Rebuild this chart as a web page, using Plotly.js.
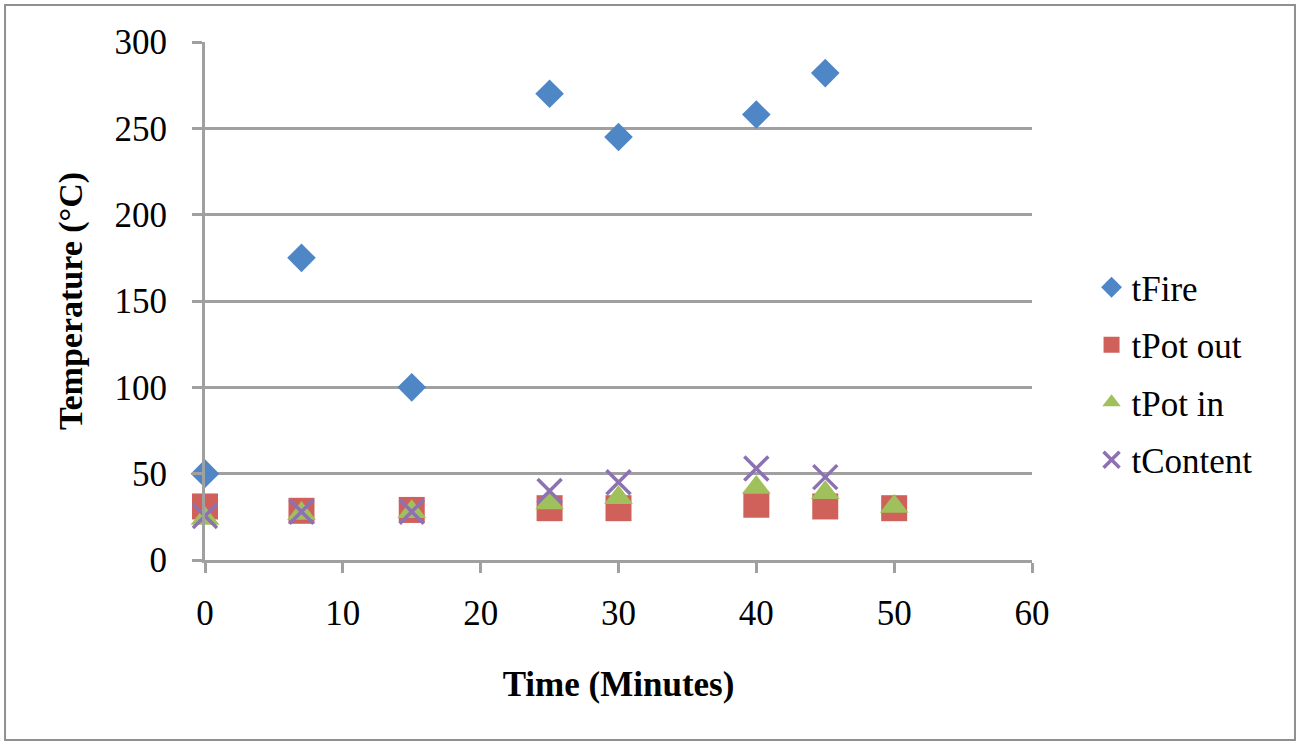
<!DOCTYPE html>
<html><head><meta charset="utf-8">
<script src="https://cdn.plot.ly/plotly-3.0.1.min.js"></script>
<style>html,body{margin:0;padding:0;background:#fff;}#chart{width:1300px;height:744px;}</style>
</head><body><div id="chart"></div>
<script>
const fireX = [0, 7, 15, 25, 30, 40, 45];
const fireY = [50, 175, 100, 270, 245, 258, 282];
const potOutX = [0, 7, 15, 25, 30, 40, 45, 50];
const potOutY = [31, 28.5, 29, 30, 30, 32, 31, 30];
const potInX = [0, 7, 15, 25, 30, 40, 45, 50];
const potInY = [24, 27, 28, 33, 36, 42, 39, 31];
const contentX = [0, 7, 15, 25, 30, 40, 45];
const contentY = [25.5, 28, 28, 40, 45, 53, 48];

const serif = 'Liberation Serif, Times New Roman, serif';
const traces = [
  {x: fireX, y: fireY, name: 'tFire', legendgroup: 'a', type: 'scatter', mode: 'markers', cliponaxis: false,
   marker: {symbol: 'diamond', size: 22, color: '#4F86C6'}},
  {x: potOutX, y: potOutY, name: 'tPot out', legendgroup: 'b', type: 'scatter', mode: 'markers', cliponaxis: false,
   marker: {symbol: 'square', size: 26, color: '#D0605A'}},
  {x: potInX, y: potInY, name: 'tPot in', legendgroup: 'c', type: 'scatter', mode: 'markers', cliponaxis: false,
   marker: {symbol: 'triangle-up', size: 25, color: '#A0C05C'}},
  {x: contentX, y: contentY, name: 'tContent', legendgroup: 'd', type: 'scatter', mode: 'markers', cliponaxis: false,
   marker: {symbol: 'x-thin', size: 24, color: '#8C72B0', line: {color: '#8C72B0', width: 3.5}}}
];
const layout = {
  width: 1300, height: 744,
  margin: {l: 205, r: 268, t: 42, b: 184},
  paper_bgcolor: '#fff', plot_bgcolor: '#fff',
  showlegend: true,
  legend: {x: 1.072, y: 0.36, xanchor: 'left', yanchor: 'middle',
    font: {family: serif, size: 35, color: '#000'}, tracegroupgap: 9, itemsizing: 'trace'},
  xaxis: {range: [0, 60], dtick: 10, showgrid: false, zeroline: false,
    showline: true, linecolor: '#a0a0a0', linewidth: 3,
    ticks: 'outside', ticklen: 10, tickwidth: 3, tickcolor: '#a0a0a0',
    ticklabelstandoff: 10,
    tickfont: {family: serif, size: 35, color: '#000'},
    title: {text: '<b>Time (Minutes)</b>', font: {family: serif, size: 35, color: '#000'}, standoff: 40}},
  yaxis: {range: [0, 300], dtick: 50, showgrid: true, gridcolor: '#a0a0a0', gridwidth: 3,
    zeroline: false, showline: true, linecolor: '#a0a0a0', linewidth: 3,
    ticks: 'outside', ticklen: 10, tickwidth: 3, tickcolor: '#a0a0a0',
    ticklabelstandoff: 18,
    tickfont: {family: serif, size: 35, color: '#000'},
    title: {text: '<b>Temperature (°C)</b>', font: {family: serif, size: 34, color: '#000'}, standoff: 22}},
  shapes: [{type: 'rect', xref: 'paper', yref: 'paper',
    x0: -0.2418, x1: 1.318, y0: -0.3475, y1: 1.0714,
    line: {color: '#909090', width: 2}, fillcolor: 'rgba(0,0,0,0)', layer: 'below'}]
};
Plotly.newPlot('chart', traces, layout, {displayModeBar: false});
</script></body></html>
